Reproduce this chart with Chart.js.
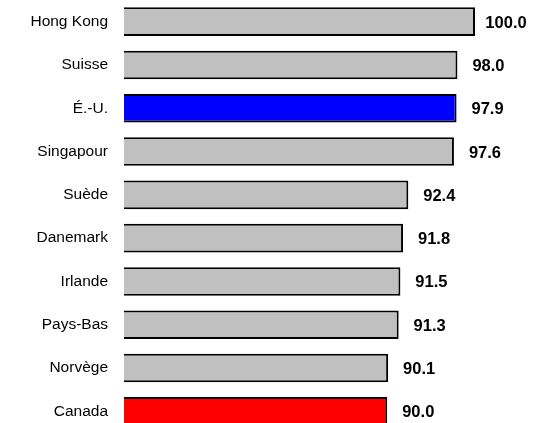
<!DOCTYPE html>
<html>
<head>
<meta charset="utf-8">
<script src="https://cdn.jsdelivr.net/npm/chart.js@4"></script>
<style>
  html, body { margin: 0; padding: 0; background: #ffffff; }
  #wrap { width: 541px; height: 423px; overflow: hidden; position: relative; }
  canvas { display: block; }
</style>
</head>
<body>
<div id="wrap"><canvas id="c" width="541" height="433"></canvas></div>
<script>
const categories = ["Hong Kong", "Suisse", "É.-U.", "Singapour", "Suède", "Danemark", "Irlande", "Pays-Bas", "Norvège", "Canada"];
const values = [100.0, 98.0, 97.9, 97.6, 92.4, 91.8, 91.5, 91.3, 90.1, 90.0];
const barColors = ["#C0C0C0", "#C0C0C0", "#0000FF", "#C0C0C0", "#C0C0C0", "#C0C0C0", "#C0C0C0", "#C0C0C0", "#C0C0C0", "#FF0000"];
const axisMin = 60;
const axisMax = 100;

const valueLabels = {
  id: 'valueLabels',
  afterDatasetsDraw(chart) {
    const ctx = chart.ctx;
    const meta = chart.getDatasetMeta(0);
    ctx.save();
    ctx.font = 'bold 16.5px "Liberation Sans", Arial, sans-serif';
    ctx.fillStyle = '#000000';
    ctx.textAlign = 'center';
    ctx.textBaseline = 'middle';
    meta.data.forEach((bar, i) => {
      ctx.fillText(values[i].toFixed(1), bar.x + 31, bar.y + 1.5);
    });
    ctx.restore();
  }
};

new Chart(document.getElementById('c'), {
  type: 'bar',
  data: {
    labels: categories,
    datasets: [{
      data: values,
      backgroundColor: barColors,
      borderColor: '#000000',
      borderWidth: 2,
      borderSkipped: false,
      categoryPercentage: 1.0,
      barPercentage: 0.66
    }]
  },
  options: {
    indexAxis: 'y',
    responsive: false,
    animation: false,
    devicePixelRatio: 1,
    layout: { autoPadding: false, padding: { left: 0, right: 66, top: 0, bottom: 0 } },
    plugins: { legend: { display: false }, tooltip: { enabled: false } },
    scales: {
      x: { display: false, min: axisMin, max: axisMax },
      y: {
        grid: { display: false, drawTicks: false },
        border: { display: false },
        ticks: {
          color: '#000000',
          padding: 16,
          font: { family: '"Liberation Sans", Arial, sans-serif', size: 15.5 }
        },
        afterFit(scale) { scale.width = 124; scale.paddingTop = 0; scale.paddingBottom = 0; }
      }
    }
  },
  plugins: [valueLabels]
});
</script>
</body>
</html>
